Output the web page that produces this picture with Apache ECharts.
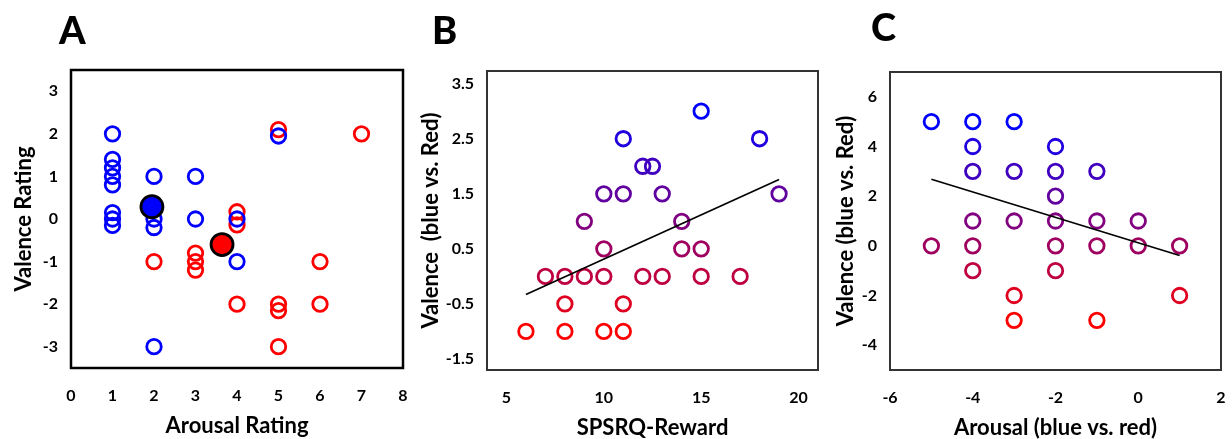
<!DOCTYPE html>
<html lang="en">
<head>
    <meta charset="utf-8">
    <meta name="viewport" content="width=device-width, initial-scale=1"/>
    <style>
        html, body { margin: 0; padding: 0; background: #fff; }
        #chart { width: 1232px; height: 439px; }
    </style>
</head>
<body>
<div id="chart"></div>
<script type="text/javascript" src="https://cdn.jsdelivr.net/npm/echarts@6/dist/echarts.min.js"></script>
<script type="text/javascript">

// panel A: arousal / valence ratings per picture
var blueA = [[1, 2], [1, 1.4], [1, 1.2], [1, 1], [1, 0.8], [1, 0.15], [1, 0], [1, -0.15],
    [2, 1], [2, 0], [2, -0.2], [2, -3], [3, 1], [3, 0], [4, 0], [4, -1], [5, 1.95]];
var redA = [[2, -1], [3, -0.8], [3, -1], [3, -1.2], [4, 0.17], [4, -0.14], [4, -2],
    [5, 2.1], [5, -2], [5, -2.15], [5, -3], [6, -1], [6, -2], [7, 2]];
var meanBlueA = [1.95, 0.29];
var meanRedA = [3.64, -0.6];

// panel B: SPSRQ-Reward vs valence difference
var pointsB = [[15, 3], [11, 2.5], [18, 2.5], [12, 2], [12.5, 2], [10, 1.5], [11, 1.5], [13, 1.5], [19, 1.5],
    [9, 1], [14, 1], [10, 0.5], [14, 0.5], [15, 0.5],
    [7, 0], [8, 0], [9, 0], [10, 0], [12, 0], [13, 0], [15, 0], [17, 0],
    [8, -0.5], [11, -0.5], [6, -1], [8, -1], [10, -1], [11, -1]];
var trendB = [[6, -0.33], [19, 1.76]];

// panel C: arousal difference vs valence difference
var pointsC = [[-5, 5], [-4, 5], [-3, 5], [-4, 4], [-2, 4], [-4, 3], [-3, 3], [-2, 3], [-1, 3], [-2, 2],
    [-4, 1], [-3, 1], [-2, 1], [-1, 1], [0, 1],
    [-5, 0], [-4, 0], [-2, 0], [-1, 0], [0, 0], [1, 0],
    [-4, -1], [-2, -1], [-3, -2], [1, -2], [-3, -3], [-1, -3]];
var trendC = [[-5, 2.68], [1, -0.39]];

// tick labels
var ticksAy = [-3, -2, -1, 0, 1, 2, 3];
var ticksBx = [5, 10, 15, 20];
var ticksBy = [-1.5, -0.5, 0.5, 1.5, 2.5, 3.5];
var ticksCy = [-4, -2, 0, 2, 4, 6];

var FONT = 'Lato';

// red -> blue by valence
function mix(v, lo, hi) {
    var t = Math.max(0, Math.min(1, (v - lo) / (hi - lo)));
    var r = Math.round(255 * (1 - t));
    var b = Math.round(255 * t);
    return 'rgb(' + r + ',0,' + b + ')';
}

function ring(color) {
    return { color: 'rgba(0,0,0,0)', borderColor: color, borderWidth: 2.8, opacity: 1 };
}

function gradientData(points, lo, hi) {
    return points.map(function (p) {
        return { value: p, itemStyle: ring(mix(p[1], lo, hi)) };
    });
}

var labelStyle = { color: '#000', fontFamily: FONT, fontWeight: 'bold', fontSize: 16 };
var nameStyle = { color: '#000', fontFamily: FONT, fontWeight: 'bold', fontSize: 22 };

function xAxis(idx, min, max, name, extra) {
    var ax = {
        type: 'value', gridIndex: idx, min: min, max: max,
        name: name, nameLocation: 'middle', nameGap: 47, nameTextStyle: nameStyle,
        axisLine: { show: false }, axisTick: { show: false }, splitLine: { show: false },
        axisLabel: Object.assign({ margin: 20, showMinLabel: true, showMaxLabel: true }, labelStyle)
    };
    return Object.assign(ax, extra || {});
}

function yAxis(idx, min, max, name, gap, custom) {
    return {
        type: 'value', gridIndex: idx, min: min, max: max,
        name: name, nameLocation: 'middle', nameGap: gap, nameTextStyle: nameStyle,
        axisLine: { show: false }, axisTick: { show: false }, splitLine: { show: false },
        axisLabel: Object.assign({ margin: 13, customValues: custom }, labelStyle)
    };
}

var xB = xAxis(1, 4, 21, 'SPSRQ-Reward');
xB.axisLabel.customValues = ticksBx;

var letterStyle = { fontFamily: FONT, fontWeight: 900, fontSize: 38, color: '#000' };

var option = {
    backgroundColor: '#fff',
    animation: false,
    title: [
        { text: 'A', left: 54, top: 8, textStyle: letterStyle },
        { text: 'B', left: 427, top: 8, textStyle: letterStyle },
        { text: 'C', left: 866, top: 5, textStyle: letterStyle }
    ],
    grid: [
        { left: 71, top: 70, width: 332, height: 298, outerBoundsMode: 'none', show: true, borderColor: '#000', borderWidth: 2.5 },
        { left: 487, top: 71, width: 331, height: 299, outerBoundsMode: 'none', show: true, borderColor: '#333', borderWidth: 2 },
        { left: 890, top: 72, width: 331, height: 298, outerBoundsMode: 'none', show: true, borderColor: '#333', borderWidth: 2 }
    ],
    xAxis: [
        xAxis(0, 0, 8, 'Arousal Rating', { interval: 1 }),
        xB,
        xAxis(2, -6, 2, 'Arousal (blue vs. red)', { interval: 2 })
    ],
    yAxis: [
        yAxis(0, -3.5, 3.5, 'Valence Rating', 36, ticksAy),
        yAxis(1, -1.7, 3.73, 'Valence  (blue vs. Red)', 44, ticksBy),
        yAxis(2, -5, 7, 'Valence (blue vs. Red)', 33, ticksCy)
    ],
    series: [
        {
            type: 'scatter', xAxisIndex: 0, yAxisIndex: 0, symbolSize: 14.5,
            itemStyle: ring('#ff0000'), data: redA, emphasis: { disabled: true }
        },
        {
            type: 'scatter', xAxisIndex: 0, yAxisIndex: 0, symbolSize: 14.5,
            itemStyle: ring('#0000ff'), data: blueA, emphasis: { disabled: true }
        },
        {
            type: 'scatter', xAxisIndex: 0, yAxisIndex: 0, symbolSize: 22, z: 5,
            itemStyle: { color: '#0000ff', borderColor: '#000', borderWidth: 2.8, opacity: 1 },
            data: [meanBlueA], emphasis: { disabled: true }
        },
        {
            type: 'scatter', xAxisIndex: 0, yAxisIndex: 0, symbolSize: 22, z: 5,
            itemStyle: { color: '#ff0000', borderColor: '#000', borderWidth: 2.8, opacity: 1 },
            data: [meanRedA], emphasis: { disabled: true }
        },
        {
            type: 'scatter', xAxisIndex: 1, yAxisIndex: 1, symbolSize: 14.5,
            data: gradientData(pointsB, -1, 3), emphasis: { disabled: true }
        },
        {
            type: 'line', xAxisIndex: 1, yAxisIndex: 1, data: trendB, symbol: 'none', z: 5,
            lineStyle: { color: '#000', width: 1.7 }, silent: true
        },
        {
            type: 'scatter', xAxisIndex: 2, yAxisIndex: 2, symbolSize: 14.5,
            data: gradientData(pointsC, -3, 5), emphasis: { disabled: true }
        },
        {
            type: 'line', xAxisIndex: 2, yAxisIndex: 2, data: trendC, symbol: 'none', z: 5,
            lineStyle: { color: '#000', width: 1.7 }, silent: true
        }
    ]
};

var myChart = echarts.init(document.getElementById('chart'));
myChart.setOption(option);

</script>
</body>
</html>
